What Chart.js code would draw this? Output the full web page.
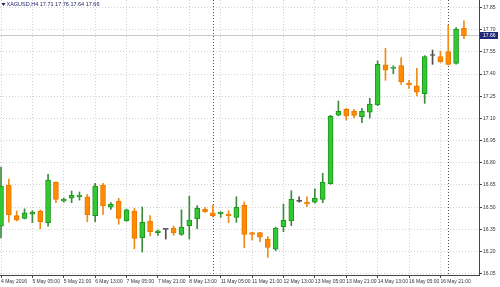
<!DOCTYPE html>
<html>
<head>
<meta charset="utf-8">
<script src="https://cdn.jsdelivr.net/npm/chart.js@4.4.0/dist/chart.umd.min.js"></script>
<style>
html, body { margin: 0; padding: 0; background: #fff; }
canvas { display: block; }
</style>
</head>
<body>
<canvas id="priceChart" width="500" height="287"></canvas>
<script>
// XAGUSD H4, 60 candles
var opens  = [16.372,16.650,16.442,16.424,16.453,16.474,16.395,16.668,16.541,16.560,
              16.570,16.570,16.442,16.650,16.499,16.541,16.408,16.474,16.293,16.406,
              16.327,16.350,16.357,16.316,16.374,16.422,16.485,16.462,16.456,16.453,
              16.431,16.512,16.327,16.327,16.284,16.215,16.368,16.406,16.539,16.533,
              16.533,16.553,16.658,17.123,17.162,17.150,17.112,17.142,17.191,17.462,
              17.439,17.457,17.340,17.320,17.267,17.526,17.518,17.552,17.473,17.710];
var highs  = [16.771,16.690,16.474,16.489,16.476,16.481,16.722,16.672,16.562,16.609,
              16.602,16.587,16.661,16.661,16.530,16.560,16.487,16.492,16.501,16.442,
              16.345,16.352,16.372,16.482,16.573,16.510,16.499,16.514,16.469,16.476,
              16.570,16.535,16.327,16.330,16.300,16.364,16.521,16.611,16.570,16.570,
              16.623,16.729,17.121,17.218,17.169,17.162,17.169,17.236,17.489,17.575,
              17.457,17.511,17.358,17.439,17.525,17.563,17.556,17.732,17.714,17.760];
var lows   = [16.291,16.399,16.406,16.420,16.395,16.354,16.372,16.530,16.533,16.530,
              16.548,16.401,16.401,16.451,16.485,16.384,16.404,16.217,16.196,16.305,
              16.309,16.284,16.309,16.309,16.284,16.354,16.465,16.433,16.431,16.395,
              16.397,16.225,16.278,16.266,16.160,16.205,16.334,16.374,16.533,16.503,
              16.526,16.530,16.654,17.118,17.089,17.103,17.071,17.103,17.186,17.358,
              17.403,17.331,17.304,17.252,17.202,17.466,17.480,17.462,17.468,17.640];
var closes = [16.643,16.447,16.413,16.462,16.467,16.401,16.683,16.553,16.553,16.580,
              16.582,16.449,16.643,16.508,16.521,16.424,16.481,16.289,16.397,16.334,
              16.340,16.350,16.325,16.365,16.413,16.492,16.469,16.442,16.467,16.442,
              16.499,16.316,16.316,16.296,16.228,16.359,16.411,16.553,16.539,16.521,
              16.560,16.670,17.115,17.148,17.117,17.121,17.148,17.198,17.466,17.426,
              17.446,17.349,17.328,17.277,17.518,17.526,17.484,17.466,17.705,17.660];

// one label every 4 bars, starting with the first bar
var timeLabels = ["4 May 2016", "5 May 05:00", "5 May 21:00", "6 May 13:00", "7 May 05:00",
                  "7 May 21:00", "8 May 13:00", "11 May 05:00", "11 May 21:00", "12 May 13:00",
                  "13 May 05:00", "13 May 21:00", "14 May 13:00", "16 May 05:00", "16 May 21:00"];
var priceTicks = [16.05, 16.20, 16.35, 16.50, 16.65, 16.80, 16.95, 17.10, 17.25, 17.40, 17.55, 17.70, 17.85];
var separatorBars = [28, 58];
var lastPrice = 17.66;
var symbolTitle = "XAGUSD,H4 17.71 17.76 17.64 17.66";

var BULL = '#32c832', BULL_EDGE = '#1e961e', BULL_WICK = '#3c8c3c';
var BEAR = '#ff8c00', BEAR_EDGE = '#e67800', BEAR_WICK = '#f08c14';
var DOJI = '#505050';
var FONT = { family: 'Liberation Sans, Arial, sans-serif', size: 5 };

var labelBars = timeLabels.map(function (t, k) { return 1 + k * 4; });

var wickData = [], bodyData = [];
for (var i = 0; i < opens.length; i++) {
    wickData.push({ x: i + 1, y: [lows[i], highs[i]] });
    bodyData.push({ x: i + 1, y: [Math.min(opens[i], closes[i]), Math.max(opens[i], closes[i])] });
}

function candleColor(idx, up, down) {
    if (opens[idx] === closes[idx]) return DOJI;
    return closes[idx] > opens[idx] ? up : down;
}

// the axes must not push the plot area in (labels may hang over the edges)
function noPadding(scale) {
    scale.paddingLeft = 0;
    scale.paddingRight = 0;
    scale.paddingTop = 0;
    scale.paddingBottom = 0;
}

const overlays = {
    id: 'overlays',
    beforeDatasetsDraw(chart) {
        const ctx = chart.ctx, a = chart.chartArea;
        const xs = chart.scales.x, ys = chart.scales.y;
        ctx.save();
        // current price line
        const py = Math.round(ys.getPixelForValue(lastPrice)) - 0.5;
        ctx.strokeStyle = '#c8c8c8';
        ctx.lineWidth = 1;
        ctx.beginPath();
        ctx.moveTo(a.left, py);
        ctx.lineTo(a.right, py);
        ctx.stroke();
        // period separators
        ctx.strokeStyle = '#505050';
        ctx.setLineDash([1, 2]);
        separatorBars.forEach(function (b) {
            const px = Math.round(xs.getPixelForValue(b)) + 0.5;
            ctx.beginPath();
            ctx.moveTo(px, a.top);
            ctx.lineTo(px, a.bottom);
            ctx.stroke();
        });
        ctx.restore();
    },
    afterDraw(chart) {
        const ctx = chart.ctx, a = chart.chartArea;
        const ys = chart.scales.y;
        ctx.save();
        // title
        ctx.fillStyle = '#1c1c64';
        ctx.beginPath();
        ctx.moveTo(1.5, 3);
        ctx.lineTo(5.5, 3);
        ctx.lineTo(3.5, 6);
        ctx.closePath();
        ctx.fill();
        ctx.font = '5.5px ' + FONT.family;
        ctx.textBaseline = 'middle';
        ctx.fillText(symbolTitle, 6.5, 4.5);
        // price box
        const py = Math.round(ys.getPixelForValue(lastPrice)) - 1;
        ctx.fillStyle = '#1e2a78';
        ctx.fillRect(a.right + 1, py - 3, 18, 7);
        ctx.fillStyle = '#ffffff';
        ctx.font = '5px ' + FONT.family;
        ctx.fillText(lastPrice.toFixed(2), a.right + 4, py + 0.5);
        ctx.restore();
    }
};

new Chart(document.getElementById('priceChart'), {
    type: 'bar',
    data: {
        datasets: [
            {
                data: bodyData,
                barThickness: 5,
                grouped: false,
                borderWidth: 1,
                borderSkipped: false,
                minBarLength: 1,
                backgroundColor: function (c) { return candleColor(c.dataIndex, BULL, BEAR); },
                borderColor: function (c) { return candleColor(c.dataIndex, BULL_EDGE, BEAR_EDGE); },
                order: 0
            },
            {
                data: wickData,
                barThickness: 1,
                grouped: false,
                borderWidth: 0,
                backgroundColor: function (c) { return candleColor(c.dataIndex, BULL_WICK, BEAR_WICK); },
                order: 1
            }
        ]
    },
    options: {
        responsive: false,
        animation: false,
        devicePixelRatio: 1,
        layout: { padding: 0 },
        plugins: {
            legend: { display: false },
            tooltip: { enabled: false }
        },
        scales: {
            x: {
                type: 'linear',
                offset: false,
                min: 0.872,
                max: 61.92,
                afterBuildTicks: function (scale) {
                    scale.ticks = labelBars.map(function (v) { return { value: v }; });
                },
                afterFit: function (scale) { scale.height = 12; noPadding(scale); },
                ticks: {
                    autoSkip: false,
                    maxRotation: 0,
                    align: 'start',
                    padding: 1,
                    color: '#333',
                    font: FONT,
                    callback: function (v, idx) { return timeLabels[idx]; }
                },
                grid: {
                    offset: false,
                    color: '#d2d2d2',
                    tickColor: '#444',
                    tickLength: 3,
                    tickBorderDash: []
                },
                border: { display: true, color: '#444', dash: [1, 2] }
            },
            y: {
                position: 'right',
                min: 16.0408,
                max: 17.9014,
                afterBuildTicks: function (scale) {
                    scale.ticks = priceTicks.map(function (v) { return { value: v }; });
                },
                afterFit: function (scale) { scale.width = 21; noPadding(scale); },
                ticks: {
                    padding: 1,
                    color: '#333',
                    font: FONT,
                    callback: function (v) { return v.toFixed(2); }
                },
                grid: {
                    color: '#d2d2d2',
                    tickColor: '#444',
                    tickLength: 3,
                    tickBorderDash: []
                },
                border: { display: true, color: '#444', dash: [1, 2] }
            }
        }
    },
    plugins: [overlays]
});
</script>
</body>
</html>
